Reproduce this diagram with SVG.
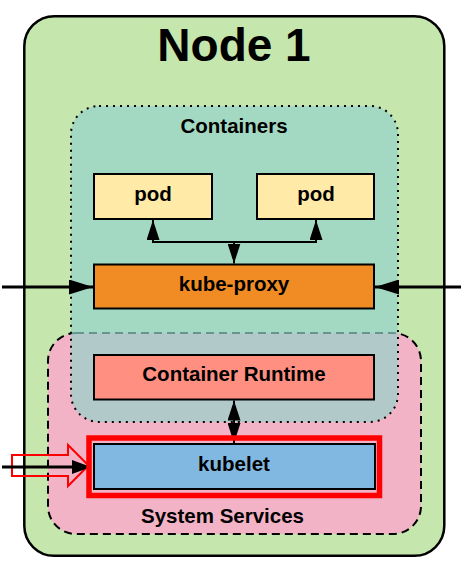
<svg xmlns="http://www.w3.org/2000/svg" width="463" height="570" viewBox="0 0 463 570">
<style>
  text { font-family: "Liberation Sans", Arial, sans-serif; font-weight: bold; fill: #000; text-anchor: middle; }
  .lbl { font-size: 20.5px; }
  .box { stroke: #000; stroke-width: 2; }
  .conn { fill: none; stroke: #000; stroke-width: 2; }
  .thick { fill: none; stroke: #000; stroke-width: 3; }
</style>
<defs>
  <marker id="ah" markerUnits="userSpaceOnUse" markerWidth="20" markerHeight="13" refX="20" refY="6.5" orient="auto-start-reverse">
    <path d="M0,0 L20,6.5 L0,13 Z" fill="#000"/>
  </marker>
  <marker id="ahBig" markerUnits="userSpaceOnUse" markerWidth="24" markerHeight="15" refX="24" refY="7.5" orient="auto-start-reverse">
    <path d="M0,0 L24,7.5 L0,15 Z" fill="#000"/>
  </marker>
  <marker id="ahMid" markerUnits="userSpaceOnUse" markerWidth="19" markerHeight="14" refX="19" refY="7" orient="auto-start-reverse">
    <path d="M0,0 L19,7 L0,14 Z" fill="#000"/>
  </marker>
</defs>

<g id="node1">
  <rect x="24.3" y="16.2" width="420" height="539.6" rx="30" ry="30" fill="#C5E6AD" stroke="#000" stroke-width="2.5"/>
  <text x="234" y="61" style="font-size:46px">Node 1</text>
</g>

<g id="system-services">
  <rect x="48" y="333" width="373" height="201" rx="28" ry="28" fill="#F3B3C6" stroke="#000" stroke-width="2" stroke-dasharray="8 5"/>
  <text class="lbl" x="222.5" y="523">System Services</text>
</g>

<g id="containers">
  <rect x="71" y="106" width="327" height="316" rx="28" ry="28" fill="#94D3CB" fill-opacity="0.7" stroke="#000" stroke-width="2" stroke-dasharray="2 5"/>
  <text class="lbl" x="234" y="133">Containers</text>
</g>

<g id="pod-left">
  <rect class="box" x="94" y="174" width="118" height="45" fill="#FFEAA7"/>
  <text class="lbl" x="153" y="201">pod</text>
</g>

<g id="pod-right">
  <rect class="box" x="257" y="174" width="117" height="45" fill="#FFEAA7"/>
  <text class="lbl" x="316" y="201">pod</text>
</g>

<g id="kube-proxy">
  <rect class="box" x="94" y="264.5" width="280" height="44" fill="#F08C23"/>
  <text class="lbl" x="234" y="291.3">kube-proxy</text>
</g>

<g id="container-runtime">
  <rect class="box" x="94" y="355" width="280" height="44.5" fill="#FF8F80"/>
  <text class="lbl" x="234" y="381">Container Runtime</text>
</g>

<g id="kubelet">
  <rect class="box" x="94" y="444" width="281" height="45" fill="#80B8E1"/>
  <text class="lbl" x="234" y="471">kubelet</text>
</g>

<g id="connectors">
  <path class="conn" d="M153,220 L153,242 L316,242 L316,220" marker-start="url(#ah)" marker-end="url(#ah)"/>
  <path class="conn" d="M234,242 L234,263.5" marker-end="url(#ah)"/>
  <path class="thick" d="M2,287 L93,287" marker-end="url(#ahBig)"/>
  <path class="thick" d="M461,287 L375,287" marker-end="url(#ahBig)"/>
  <path class="conn" d="M234,400.5 L234,443" marker-start="url(#ah)" marker-end="url(#ah)"/>
  <path d="M12,455 L68,455 L68,445 L88.5,465.5 L68,486 L68,476 L12,476 Z" fill="none" stroke="#FF0000" stroke-width="2"/>
  <path class="thick" d="M2,467 L91,467" marker-end="url(#ahMid)"/>
</g>

<g id="kubelet-highlight">
  <rect x="89" y="438" width="290.5" height="57.5" fill="none" stroke="#FF0000" stroke-width="5.5"/>
</g>
</svg>
